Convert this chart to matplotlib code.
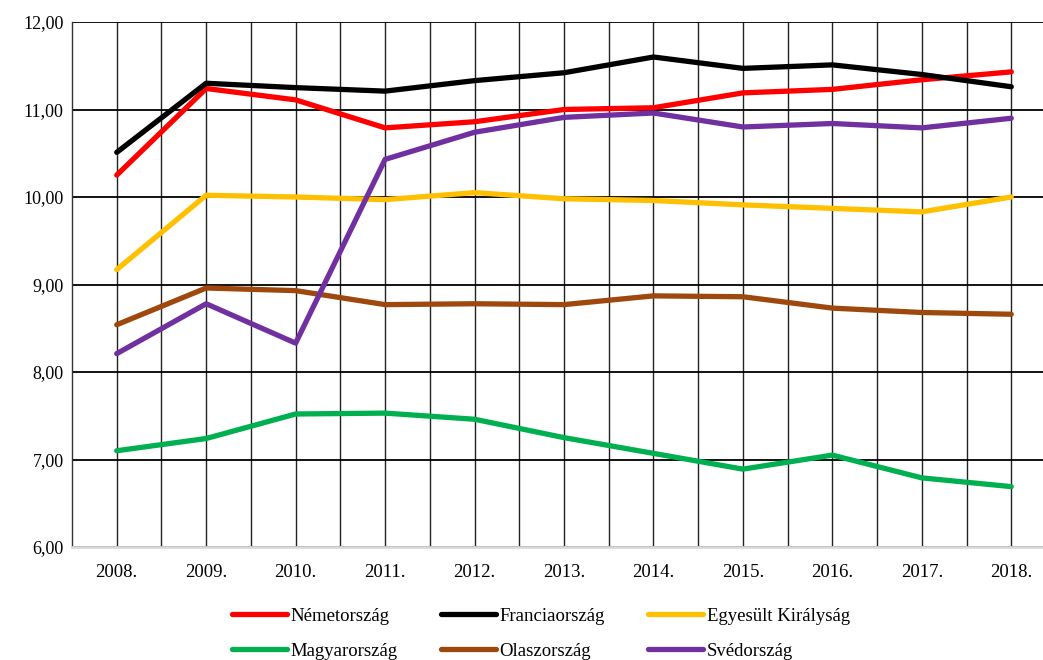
import matplotlib
matplotlib.use("Agg")
import matplotlib.pyplot as plt
from matplotlib.ticker import MultipleLocator, FixedLocator

years = [2008, 2009, 2010, 2011, 2012, 2013, 2014, 2015, 2016, 2017, 2018]
year_labels = [f"{y}." for y in years]

nemetorszag = [10.25, 11.24, 11.11, 10.79, 10.86, 11.00, 11.02, 11.19, 11.23, 11.34, 11.43]
franciaorszag = [10.51, 11.30, 11.25, 11.21, 11.33, 11.42, 11.60, 11.47, 11.51, 11.40, 11.26]
egyesult_kiralysag = [9.17, 10.02, 10.00, 9.97, 10.05, 9.98, 9.96, 9.91, 9.87, 9.83, 10.00]
magyarorszag = [7.10, 7.24, 7.52, 7.53, 7.46, 7.25, 7.07, 6.89, 7.05, 6.79, 6.69]
olaszorszag = [8.54, 8.96, 8.93, 8.77, 8.78, 8.77, 8.87, 8.86, 8.73, 8.68, 8.66]
svedorszag = [8.21, 8.78, 8.33, 10.43, 10.74, 10.91, 10.96, 10.80, 10.84, 10.79, 10.90]

series = [
    ("Németország", nemetorszag, "#FF0000"),
    ("Franciaország", franciaorszag, "#000000"),
    ("Egyesült Királyság", egyesult_kiralysag, "#FFC000"),
    ("Magyarország", magyarorszag, "#00B050"),
    ("Olaszország", olaszorszag, "#9E480E"),
    ("Svédország", svedorszag, "#7030A0"),
]

plt.rcParams['font.family'] = ['Liberation Serif', 'DejaVu Serif']

W, H = 1043, 660
fig = plt.figure(figsize=(W / 100, H / 100), dpi=100)
left, right, top, bottom = 72, 1056, 22, 547
ax = fig.add_axes([left / W, 1 - bottom / H, (right - left) / W, (bottom - top) / H])

for name, vals, col in series:
    ax.plot(years, vals, color=col, lw=3.8, label=name, solid_capstyle='round',
            solid_joinstyle='round', zorder=3)

ax.set_xlim(2007.5, 2018.5)
ax.set_ylim(6, 12)
ax.yaxis.set_major_locator(MultipleLocator(1))
ax.set_yticklabels([f"{v:.2f}".replace('.', ',') for v in ax.get_yticks()])
ax.set_xticks(years)
ax.set_xticklabels(year_labels)
ax.xaxis.set_minor_locator(FixedLocator([y + 0.5 for y in years]))
ax.tick_params(axis='both', which='both', length=0, labelsize=13.5, colors='black')
ax.tick_params(axis='y', labelsize=13)
ax.tick_params(axis='x', pad=12)
ax.tick_params(axis='y', pad=6)

ax.grid(axis='y', which='major', color='black', lw=1.3, zorder=1)
ax.grid(axis='x', which='both', color='#222222', lw=1.0, zorder=1)

for s in ['top', 'right']:
    ax.spines[s].set_visible(False)
ax.spines['left'].set_color('#333333')
ax.spines['left'].set_linewidth(1.0)
ax.spines['bottom'].set_color('#D9D9D9')
ax.spines['bottom'].set_linewidth(2.0)

handles, labels = ax.get_legend_handles_labels()
order = [0, 3, 1, 4, 2, 5]  # row-wise filling for 3 columns
leg = fig.legend([handles[i] for i in order], [labels[i] for i in order],
                 ncol=3, loc='upper left',
                 bbox_to_anchor=(215 / W, 1 - 591 / H),
                 frameon=False, fontsize=13.5, handlelength=2.93,
                 handletextpad=0.2, columnspacing=2.3, labelspacing=0.95)

fig.savefig("out.png", dpi=100, facecolor='white')
